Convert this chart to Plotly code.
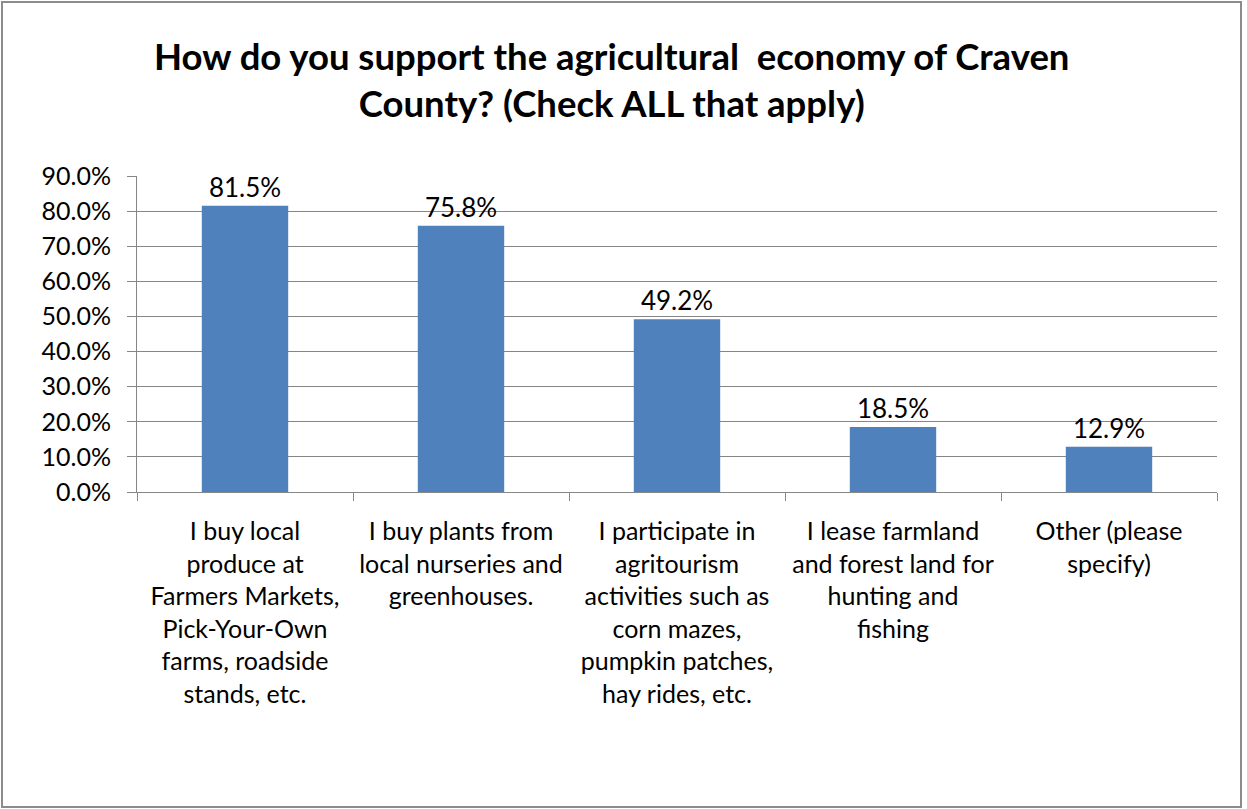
import plotly.graph_objects as go

# Survey responses (share of respondents, check all that apply)
categories = [
    "I buy local<br>produce at<br>Farmers Markets,<br>Pick-Your-Own<br>farms, roadside<br>stands, etc.",
    "I buy plants from<br>local nurseries and<br>greenhouses.",
    "I participate in<br>agritourism<br>activities such as<br>corn mazes,<br>pumpkin patches,<br>hay rides, etc.",
    "I lease farmland<br>and forest land for<br>hunting and<br>fishing",
    "Other (please<br>specify)",
]
values = [0.815, 0.758, 0.492, 0.185, 0.129]
title_text = "How do you support the agricultural  economy of Craven<br>County? (Check ALL that apply)"

W, H = 1247, 809
L, R, T, B = 137, 1217, 176, 492
FONT = "Lato, 'Open Sans', sans-serif"
GRID = "#868686"

fig = go.Figure(
    go.Bar(
        x=categories,
        y=values,
        width=0.4,
        marker=dict(color="#4F81BD", line=dict(width=0)),
        texttemplate="%{y:.1%}",
        textposition="outside",
        textfont=dict(family=FONT, size=26, color="#000000"),
        cliponaxis=False,
    )
)


def px_x(p):
    return (p - L) / (R - L)


def px_y(p):
    return (B - p) / (B - T)


fig.update_layout(
    width=W,
    height=H,
    margin=dict(l=L, r=W - R, t=T, b=H - B),
    paper_bgcolor="white",
    plot_bgcolor="white",
    showlegend=False,
    font=dict(family=FONT, color="#000000"),
    annotations=[
        dict(
            text="<b>" + title_text + "</b>",
            xref="paper", yref="paper",
            x=px_x(611), y=px_y(79.5),
            xanchor="center", yanchor="middle",
            showarrow=False,
            font=dict(family=FONT, size=36.5, color="#000000"),
        )
    ],
    shapes=[
        dict(
            type="rect", xref="paper", yref="paper",
            x0=px_x(2), x1=px_x(1241), y0=px_y(807), y1=px_y(2),
            line=dict(color="#8c8c8c", width=2),
            fillcolor="rgba(0,0,0,0)",
            layer="below",
        )
    ],
)

fig.update_xaxes(
    type="category",
    tickson="boundaries",
    ticks="outside",
    ticklen=8,
    tickcolor=GRID,
    showline=True,
    linecolor=GRID,
    linewidth=1,
    showgrid=False,
    tickfont=dict(family=FONT, size=25, color="#000000"),
    ticklabelstandoff=17,
)

fig.update_yaxes(
    range=[0, 0.9],
    dtick=0.1,
    tickformat=".1%",
    ticks="outside",
    ticklen=9,
    tickcolor=GRID,
    showline=True,
    linecolor=GRID,
    linewidth=1,
    showgrid=True,
    gridcolor=GRID,
    gridwidth=1,
    zeroline=False,
    tickfont=dict(family=FONT, size=25, color="#000000"),
    ticklabelstandoff=11,
)

fig.write_html("out.html")
